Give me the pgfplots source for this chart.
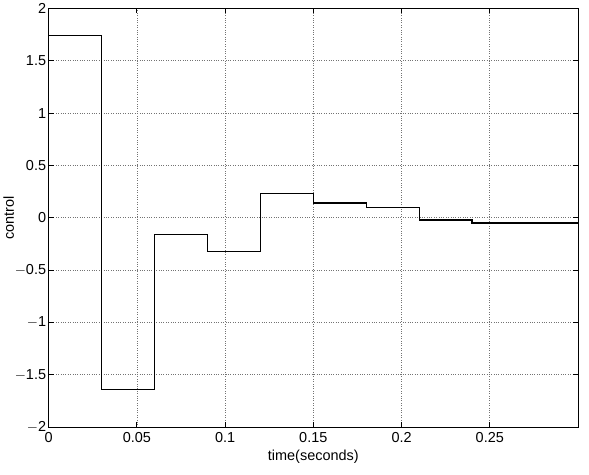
\documentclass[border=0pt]{standalone}
\usepackage{pgfplots}
\pgfplotsset{compat=1.18}
\usepackage{fontspec}
\setmainfont{Liberation Sans}
\begin{document}
\begin{tikzpicture}
\begin{axis}[
  scale only axis,
  width=531pt, height=420pt,
  xmin=0, xmax=0.3, ymin=-2, ymax=2,
  xtick={0,0.05,0.1,0.15,0.2,0.25},
  xticklabels={0,0.05,0.1,0.15,0.2,0.25},
  ytick={-2,-1.5,-1,-0.5,0,0.5,1,1.5,2},
  yticklabels={$-$2,$-$1.5,$-$1,$-$0.5,0,0.5,1,1.5,2},
  tick align=inside,
  major tick length=5pt,
  tick style={black, line width=0.8pt},
  grid=major,
  grid style={black!55, dotted, line width=0.6pt},
  axis line style={black, line width=0.9pt},
  tick label style={font=\fontsize{14.5}{16}\selectfont},
  label style={font=\fontsize{14.5}{16}\selectfont},
  xlabel={time(seconds)},
  ylabel={control},
  xlabel style={yshift=0pt},
  ylabel style={yshift=-6pt},
  xticklabel style={yshift=-2pt},
  yticklabel style={xshift=1pt},
  /pgf/number format/assume math mode=true,
]
\addplot[const plot, black, line width=1.4pt] coordinates {
(0,1.74) (0.03,-1.64) (0.06,-0.16) (0.09,-0.32) (0.12,0.23) (0.15,0.14) (0.18,0.10) (0.21,-0.02) (0.24,-0.05) (0.3,-0.05)
};
\end{axis}
\path (current axis.south east) ++(11pt,-48pt) coordinate (r);
\path (r) -- (current axis.north east);
\end{tikzpicture}
\end{document}
